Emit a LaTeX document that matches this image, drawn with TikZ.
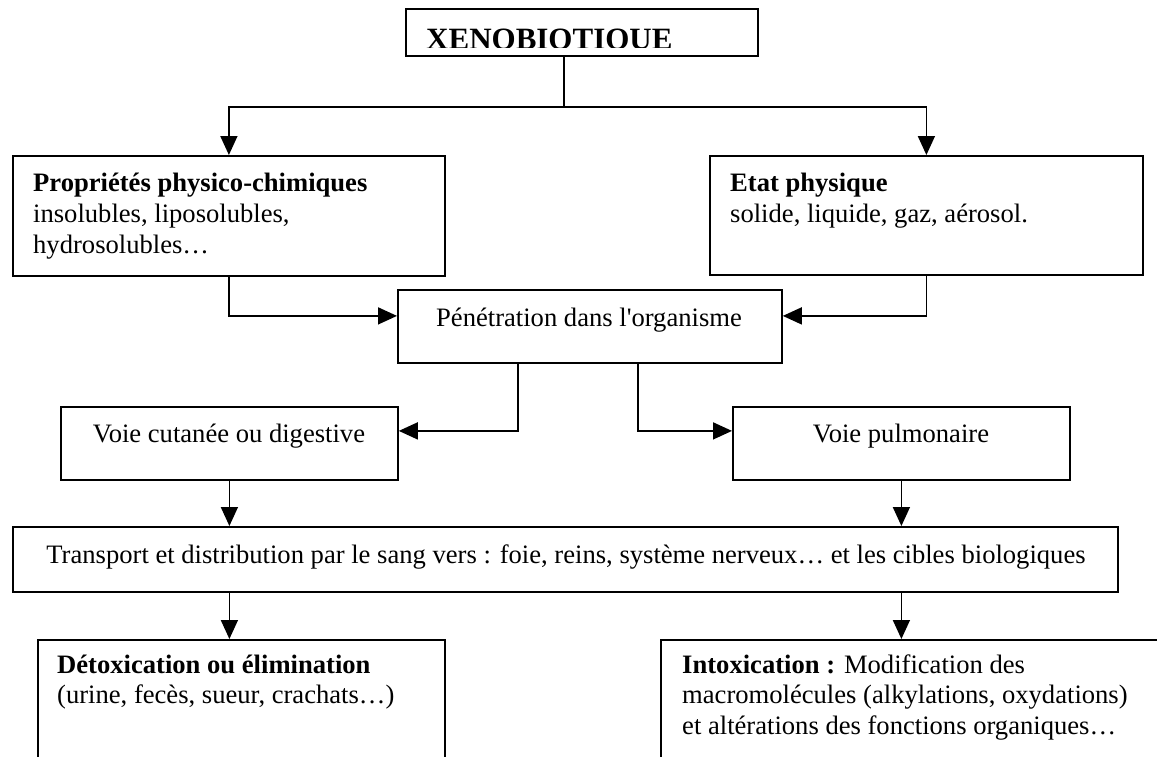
\documentclass[tikz,border=0pt]{standalone}
\usepackage{fontspec}
\setmainfont{Liberation Serif}
\newfontfamily\plainserif{Liberation Serif}
\usetikzlibrary{arrows.meta,calc}
\begin{document}
\begin{tikzpicture}[x=1pt,y=-1pt,
  box/.style={draw, line width=1.8pt, inner sep=0pt, anchor=north west},
  txt/.style={inner sep=0pt, anchor=base west, font=\fontsize{26.6}{30.6}\selectfont},
  ctxt/.style={txt, anchor=base},
  arr/.style={line width=1.6pt, -{Triangle[length=19pt,width=17pt]}},
  ln/.style={line width=1.6pt}]
\useasboundingbox (0,0) rectangle (1157,756);
\clip (0,0) rectangle (1157,756);

% top box
\node[box, minimum width=352pt, minimum height=47pt] (top) at (405,8) {};
\begin{scope}
  \clip (405,8) rectangle (757,47);
  \node[txt, font=\fontsize{31}{36}\selectfont\bfseries] (topt) at (426,49) {XENOBIOTIQUE};
\end{scope}

% second row
\node[box, minimum width=432pt, minimum height=120pt] (pc) at (12,155) {};
\node[txt] (pc1) at (33,191) {\textbf{Propriétés physico-chimiques}};
\node[txt] (pc2) at (33,222) {insolubles, liposolubles,};
\node[txt] (pc3) at (33,253) {hydrosolubles…};

\node[box, minimum width=433pt, minimum height=119pt] (ep) at (709,155) {};
\node[txt] (ep1) at (730,191) {\textbf{Etat physique}};
\node[txt] (ep2) at (730,222) {solide, liquide, gaz, aérosol.};

% penetration
\node[box, minimum width=384pt, minimum height=73pt] (pen) at (397,289) {};
\node[ctxt] (pent) at (589,326) {\plainserif Pénétration dans l'organisme};

% voies
\node[box, minimum width=337pt, minimum height=73pt] (vc) at (60,406) {};
\node[ctxt] (vct) at (229,442) {Voie cutanée ou digestive};
\node[box, minimum width=337pt, minimum height=73pt] (vp) at (732,406) {};
\node[ctxt] (vpt) at (901,442) {Voie pulmonaire};

% transport
\node[box, minimum width=1105pt, minimum height=65pt] (tr) at (12,526) {};
\node[ctxt] (trt) at (566,563) {Transport et distribution par le sang vers : foie, reins, système nerveux… et les cibles biologiques};

% bottom
\node[box, minimum width=407pt, minimum height=140pt] (dl) at (37,639) {};
\node[txt] (dl1) at (57,673) {\textbf{Détoxication ou élimination}};
\node[txt] (dl2) at (57,703) {(urine, fecès, sueur, crachats…)};
\node[box, minimum width=520pt, minimum height=140pt] (dr) at (660,639) {};
\node[txt] (dr1) at (682,673) {\textbf{Intoxication :} Modification des};
\node[txt] (dr2) at (682,703) {macromolécules (alkylations, oxydations)};
\node[txt] (dr3) at (682,734) {et altérations des fonctions organiques…};

% connectors
\coordinate (split) at (564,107);
\draw[ln] (split |- top.south) -- (split);
\draw[arr] (split) -| (pc.north);
\draw[arr] (split) -| (ep.north);
\draw[arr] (pc.south) |- ($(pen.west)+(0,-10.5)$);
\draw[arr] (ep.south) |- ($(pen.east)+(0,-10.5)$);
\draw[arr] ($(pen.south)+(-72,0)$) |- ($(vc.east)+(0,-12.5)$);
\draw[arr] ($(pen.south)+(48,0)$) |- ($(vp.west)+(0,-12.5)$);
\draw[arr] (vc.south) -- (vc.south |- tr.north);
\draw[arr] (vp.south) -- (vp.south |- tr.north);
\draw[arr] (vc.south |- tr.south) -- (vc.south |- dl.north);
\draw[arr] (vp.south |- tr.south) -- (vp.south |- dr.north);
\end{tikzpicture}
\end{document}
